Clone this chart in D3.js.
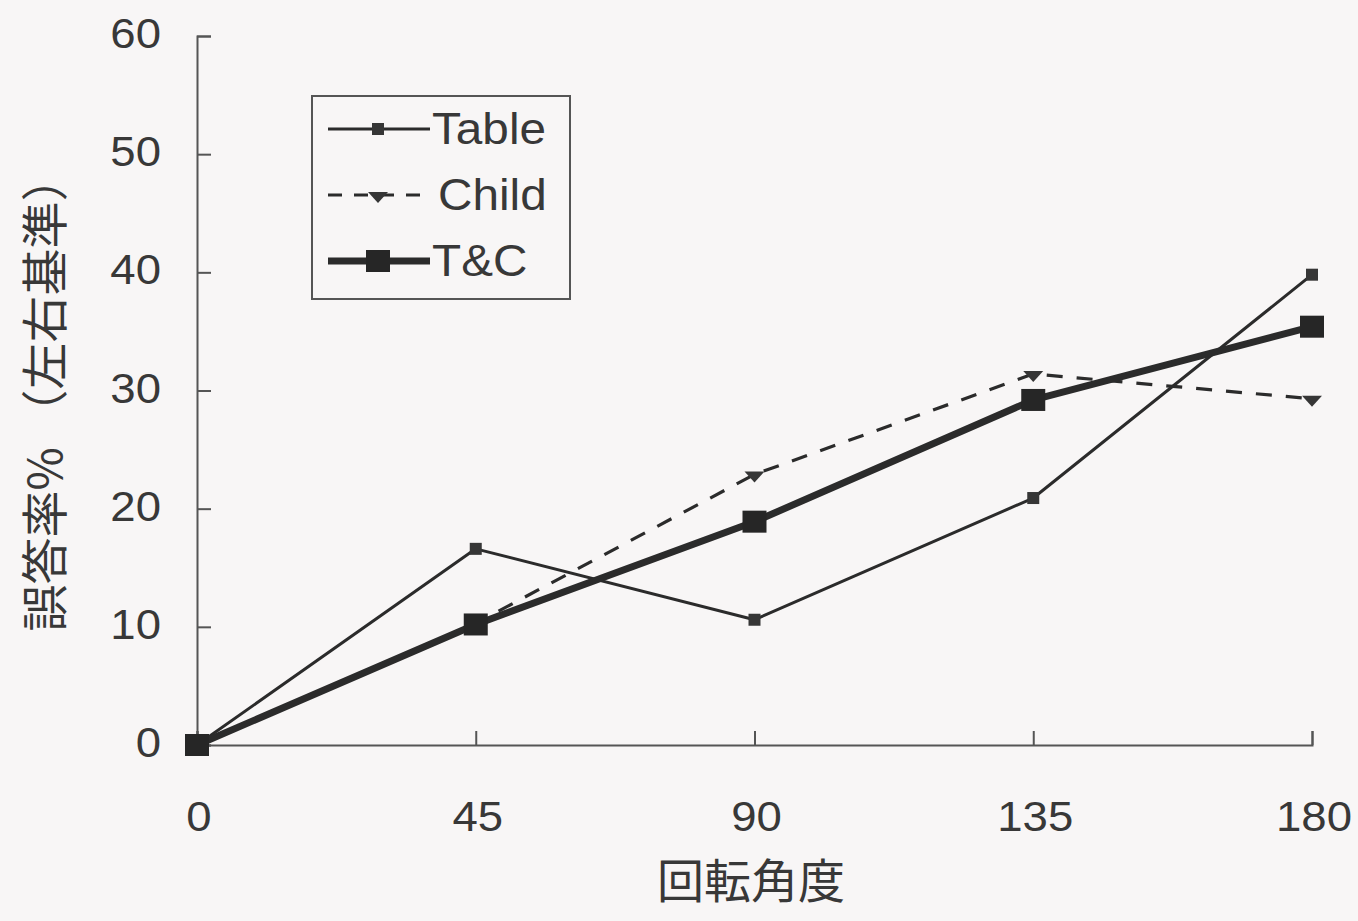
<!DOCTYPE html>
<html>
<head>
<meta charset="utf-8">
<script src="https://cdn.jsdelivr.net/npm/d3@7"></script>
<style>
  html, body { margin: 0; padding: 0; background: #f8f6f6; }
  svg { display: block; }
  text { font-family: "Liberation Sans", Arial, sans-serif; fill: #383838; }
</style>
</head>
<body>
<svg id="chart" width="1358" height="921"></svg>
<script>
// Rotation angles (degrees) and error rates (%) for each condition
const angles = [0, 45, 90, 135, 180];
const tableValues = [0, 16.6, 10.6, 20.9, 39.8];
const childValues = [0, 10.3, 22.9, 31.4, 29.3];
const tcValues = [0, 10.2, 18.9, 29.2, 35.4];
const yTicks = [0, 10, 20, 30, 40, 50, 60];
const seriesNames = ["Table", "Child", "T&C"];

const svg = d3.select("#chart");
const ink = "#2b2b2b";
const stretch = 1.06;

const x = d3.scaleLinear().domain([0, 180]).range([197, 1312]);
const y = d3.scaleLinear().domain([0, 60]).range([745, 36]);

// Horizontally widened label placed at (px, py)
function wideText(parent, px, py, str, size, anchor) {
  return parent.append("text")
    .attr("transform", `translate(${px},${py}) scale(${stretch},1)`)
    .attr("dy", "0.35em").attr("text-anchor", anchor)
    .attr("font-size", size).text(str);
}

// Axes with inward ticks
const yAxis = d3.axisRight(y).tickValues(yTicks).tickSize(14).tickFormat("");
svg.append("g").attr("transform", `translate(${x(0)},0)`).call(yAxis)
  .call(g => g.selectAll("path,line").attr("stroke", "#555").attr("stroke-width", 2));

const xAxis = d3.axisTop(x).tickValues(angles).tickSize(14).tickFormat("");
svg.append("g").attr("transform", `translate(0,${y(0)})`).call(xAxis)
  .call(g => g.selectAll("path,line").attr("stroke", "#555").attr("stroke-width", 2));

// Tick labels
const yLab = svg.append("g");
yTicks.forEach(d => wideText(yLab, 161, y(d) - 3, d, 43, "end"));
const xLab = svg.append("g");
angles.forEach(d => wideText(xLab, x(d) + 2, 816, d, 43, "middle"));

// Axis titles
svg.append("text").attr("x", 751).attr("y", 882).attr("dy", "0.35em")
  .attr("text-anchor", "middle").attr("font-size", 47)
  .style("font-family", "'Noto Sans CJK JP', sans-serif").text("回転角度");

svg.append("text").attr("transform", "translate(46,393) rotate(-90)")
  .attr("dy", "0.35em").attr("text-anchor", "middle").attr("font-size", 47)
  .style("font-family", "'Noto Sans CJK JP', sans-serif").text("誤答率% （左右基準）");

const line = d3.line().x((d, i) => x(angles[i])).y(d => y(d));

const series = [
  { name: seriesNames[0], values: tableValues, width: 3, dash: null, marker: "smallSquare" },
  { name: seriesNames[1], values: childValues, width: 3.2, dash: "16,14", marker: "diamond" },
  { name: seriesNames[2], values: tcValues, width: 7, dash: null, marker: "bigSquare" }
];

function drawMarker(g, type, cx, cy) {
  if (type === "smallSquare") {
    g.append("rect").attr("x", cx - 6).attr("y", cy - 6).attr("width", 12).attr("height", 12)
      .attr("fill", "#363636");
  } else if (type === "bigSquare") {
    g.append("rect").attr("x", cx - 12).attr("y", cy - 11).attr("width", 24).attr("height", 22)
      .attr("fill", "#262626");
  } else {
    g.append("path").attr("d", `M${cx - 10},${cy - 3} L${cx + 10},${cy - 3} L${cx},${cy + 8} Z`)
      .attr("fill", "#363636");
  }
}

series.forEach(s => {
  svg.append("path").datum(s.values).attr("d", line)
    .attr("fill", "none").attr("stroke", ink).attr("stroke-width", s.width)
    .attr("stroke-dasharray", s.dash).attr("stroke-linejoin", "round");
});
series.forEach(s => {
  const g = svg.append("g");
  s.values.forEach((v, i) => drawMarker(g, s.marker, x(angles[i]), y(v)));
});

// Legend
const legend = svg.append("g");
legend.append("rect").attr("x", 312).attr("y", 96).attr("width", 258).attr("height", 203)
  .attr("fill", "none").attr("stroke", "#555").attr("stroke-width", 2);
const legendY = [129, 195, 261];
series.forEach((s, i) => {
  const ly = legendY[i];
  legend.append("line").attr("x1", 328).attr("x2", 430).attr("y1", ly).attr("y2", ly)
    .attr("stroke", ink).attr("stroke-width", s.width).attr("stroke-dasharray", s.dash ? "14,12" : null);
  drawMarker(legend, s.marker, 378, ly);
  wideText(legend, i === 1 ? 438 : 432, ly - 1, s.name, 45, "start");
});
</script>
</body>
</html>
